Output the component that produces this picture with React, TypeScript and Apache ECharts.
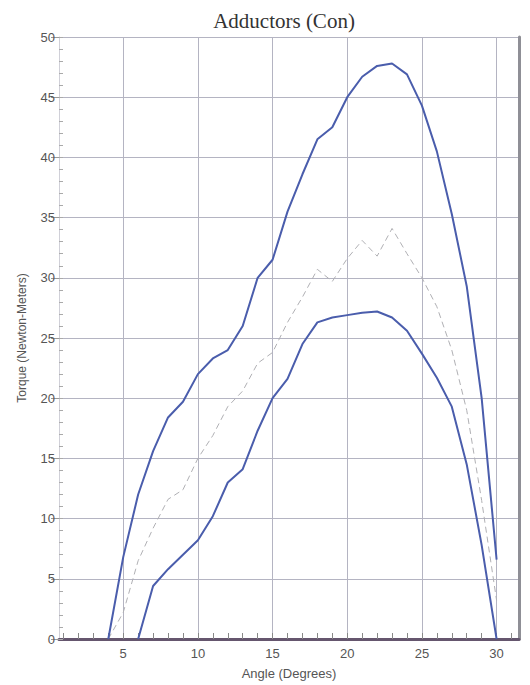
import React, { useEffect, useRef } from "react";
import * as echarts from "echarts";

const angles = [4, 5, 6, 7, 8, 9, 10, 11, 12, 13, 14, 15, 16, 17, 18, 19, 20, 21, 22, 23, 24, 25, 26, 27, 28, 29, 30];
const upperTorque = [0, 6.8, 12.0, 15.6, 18.4, 19.7, 22.0, 23.3, 24.0, 26.0, 30.0, 31.5, 35.5, 38.6, 41.5, 42.5, 45.0, 46.7, 47.6, 47.8, 46.9, 44.3, 40.5, 35.3, 29.3, 20.0, 6.6];
const meanTorque = [0, 2.2, 6.5, 9.2, 11.6, 12.4, 15.0, 16.9, 19.3, 20.6, 22.9, 23.8, 26.3, 28.4, 30.7, 29.7, 31.6, 33.1, 31.8, 34.1, 32.0, 30.0, 27.6, 24.0, 19.0, 11.5, 3.2];
const lowerTorque = [null, null, 0, 4.4, 5.8, 7.0, 8.2, 10.2, 13.0, 14.1, 17.3, 20.0, 21.6, 24.5, 26.3, 26.7, 26.9, 27.1, 27.2, 26.7, 25.6, 23.7, 21.7, 19.3, 14.5, 7.8, 0];

const xLabelValues = [5, 10, 15, 20, 25, 30];
const xMinorValues = [1, 2, 3, 4, 5, 6, 7, 8, 9, 10, 11, 12, 13, 14, 15, 16, 17, 18, 19, 20, 21, 22, 23, 24, 25, 26, 27, 28, 29, 30, 31];

const TITLE = "Adductors (Con)";
const X_NAME = "Angle (Degrees)";
const Y_NAME = "Torque (Newton-Meters)";

const pairs = (ys: (number | null)[]) => angles.map((a, i) => [a, ys[i]]);

export default function App() {
  const ref = useRef<HTMLDivElement>(null);
  useEffect(() => {
    if (!ref.current) return;
    const chart = echarts.init(ref.current, null, { renderer: "svg" });
    const blue = "#4a5dac";
    const gridColor = "#b4b4c2";
    const xMin = 0.7;
    const xMax = 31.5;
    chart.setOption({
      animation: false,
      backgroundColor: "#ffffff",
      title: {
        text: TITLE,
        left: 279,
        top: 5,
        textAlign: "center",
        textStyle: { fontFamily: "Liberation Serif", fontSize: 21, fontWeight: "normal", color: "#333" },
      },
      grid: { left: 59, top: 37, width: 460, height: 602 },
      xAxis: [
        {
          type: "value",
          min: xMin,
          max: xMax,
          name: X_NAME,
          nameLocation: "middle",
          nameGap: 28,
          nameTextStyle: { fontFamily: "Liberation Sans", fontSize: 13, color: "#555" },
          axisLine: { show: true, lineStyle: { color: "#65566e", width: 3 } },
          axisTick: { show: true, inside: true, length: 6, customValues: xMinorValues, lineStyle: { color: "#888", width: 1 } },
          axisLabel: { customValues: xLabelValues, fontFamily: "Liberation Sans", fontSize: 13, color: "#555", margin: 8 },
          splitLine: { show: false },
        },
        {
          type: "value",
          min: xMin,
          max: xMax,
          position: "bottom",
          axisLine: { show: false },
          axisTick: { show: false, customValues: xLabelValues },
          axisLabel: { show: false, customValues: xLabelValues },
          splitLine: { show: true, lineStyle: { color: gridColor, width: 1 } },
        },
      ],
      yAxis: [
        {
          type: "value",
          min: 0,
          max: 50,
          interval: 5,
          name: Y_NAME,
          nameLocation: "middle",
          nameGap: 31,
          nameTextStyle: { fontFamily: "Liberation Sans", fontSize: 12, color: "#555" },
          axisLine: { show: true, lineStyle: { color: "#d0d0d8", width: 1 } },
          axisTick: { show: true, inside: false, length: 8, lineStyle: { color: "#999" } },
          axisLabel: { fontFamily: "Liberation Sans", fontSize: 13, color: "#555", margin: 4 },
          splitLine: { show: true, lineStyle: { color: gridColor, width: 1 } },
        },
        {
          type: "value",
          min: 0,
          max: 50,
          interval: 1,
          position: "left",
          axisLine: { show: false },
          axisTick: { show: true, inside: true, length: 4, lineStyle: { color: "#aaa" } },
          axisLabel: { show: false },
          splitLine: { show: false },
        },
        {
          type: "value",
          min: 0,
          max: 50,
          position: "right",
          axisLine: { show: true, lineStyle: { color: "#8f8f96", width: 3 } },
          axisTick: { show: false },
          axisLabel: { show: false },
          splitLine: { show: false },
        },
      ],
      series: [
        {
          type: "line",
          data: pairs(upperTorque),
          showSymbol: false,
          lineStyle: { color: blue, width: 2 },
          z: 3,
        },
        {
          type: "line",
          data: pairs(lowerTorque),
          showSymbol: false,
          lineStyle: { color: blue, width: 2 },
          z: 3,
        },
        {
          type: "line",
          data: pairs(meanTorque),
          showSymbol: false,
          lineStyle: { color: "#b0b0b4", width: 1, type: [6, 4] },
          z: 2,
        },
      ],
    });
    return () => chart.dispose();
  }, []);
  return <div ref={ref} style={{ position: "fixed", left: 0, top: 0, width: 530, height: 685 }} />;
}
